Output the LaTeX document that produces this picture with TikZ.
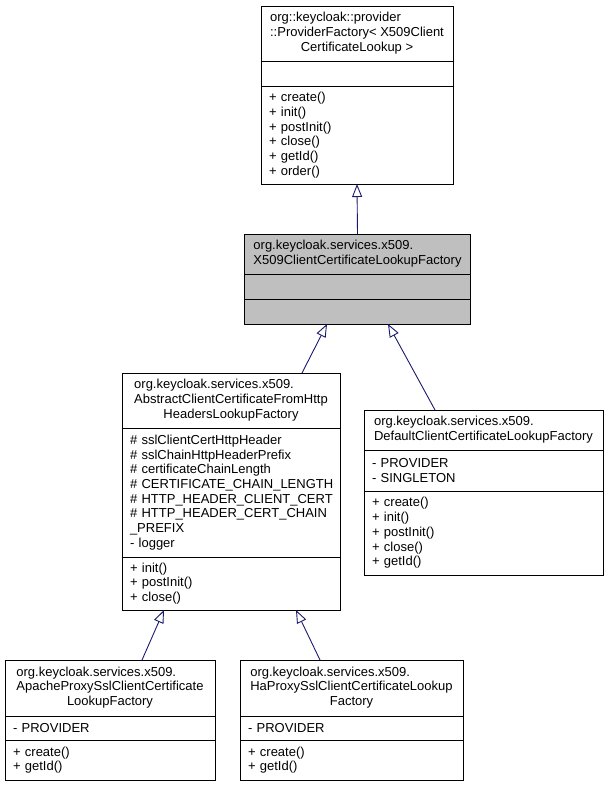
\documentclass[tikz,border=0pt]{standalone}
\usepackage{fontspec}
\setmainfont{Liberation Sans}
\usetikzlibrary{arrows.meta,positioning}
\definecolor{edgeblue}{HTML}{191970}
\definecolor{focusgray}{HTML}{BFBFBF}
\tikzset{
  classtitle/.style={draw,inner sep=0pt,outer sep=0pt,minimum width=#1,align=center},
  classpart/.style={draw,inner xsep=8pt,inner ysep=0pt,outer sep=0pt,text width=#1,align=left,
    execute at begin node={\hyphenpenalty=10000\exhyphenpenalty=10000}},
  inherit/.style={-{Triangle[open,length=13pt,width=10pt]},color=edgeblue,line width=0.9pt}
}

\begin{document}
\begin{tikzpicture}[x=1pt,y=-1pt,line width=0.9pt,font=\fontsize{13}{14.7}\selectfont]
  \useasboundingbox (0,0) rectangle (609,787);

  % base template
  \node[classtitle=192pt,minimum height=55pt,anchor=north west] (pf) at (261,6)
    {\begin{tabular}{@{}l@{}}org::keycloak::provider\\::ProviderFactory< X509Client\\\multicolumn{1}{@{}c@{}}{CertificateLookup >}\end{tabular}};
  \node[classpart=176pt,minimum height=25pt,below=0pt of pf] (pfattr) {};
  \node[classpart=176pt,minimum height=98pt,below=0pt of pfattr] (pfops)
    {+ create()\\+ init()\\+ postInit()\\+ close()\\+ getId()\\+ order()};

  % focused class
  \node[classtitle=226pt,minimum height=40pt,fill=focusgray,anchor=north west] (x509f) at (244.5,234)
    {\begin{tabular}{@{}l@{}}org.keycloak.services.x509.\\\multicolumn{1}{@{}c@{}}{X509ClientCertificateLookupFactory}\end{tabular}};
  \node[classpart=210pt,minimum height=25pt,fill=focusgray,below=0pt of x509f] (x509fattr) {};
  \node[classpart=210pt,minimum height=25pt,fill=focusgray,below=0pt of x509fattr] (x509fops) {};

  % abstract headers factory
  \node[classtitle=218pt,minimum height=55pt,anchor=north west] (abs) at (122,373)
    {\begin{tabular}{@{}l@{}}org.keycloak.services.x509.\\AbstractClientCertificateFromHttp\\\multicolumn{1}{@{}c@{}}{HeadersLookupFactory}\end{tabular}};
  \node[classpart=202pt,minimum height=129pt,below=0pt of abs] (absattr)
    {\#~sslClientCertHttpHeader\\\#~sslChainHttpHeaderPrefix\\\#~certificateChainLength\\\#~CERTIFICATE\_CHAIN\_LENGTH\\\#~HTTP\_HEADER\_CLIENT\_CERT\\\#~HTTP\_HEADER\_CERT\_CHAIN\\\_PREFIX\\- logger};
  \node[classpart=202pt,minimum height=53pt,below=0pt of absattr] (absops)
    {+ init()\\+ postInit()\\+ close()};

  % default factory
  \node[classtitle=239pt,minimum height=40pt,anchor=north west] (def) at (364,410)
    {\begin{tabular}{@{}l@{}}org.keycloak.services.x509.\\\multicolumn{1}{@{}c@{}}{DefaultClientCertificateLookupFactory}\end{tabular}};
  \node[classpart=223pt,minimum height=41pt,below=0pt of def] (defattr)
    {- PROVIDER\\- SINGLETON};
  \node[classpart=223pt,minimum height=84pt,below=0pt of defattr] (defops)
    {+ create()\\+ init()\\+ postInit()\\+ close()\\+ getId()};

  % proxy factories
  \node[classtitle=210pt,minimum height=56pt,anchor=north west] (apache) at (5,660)
    {\begin{tabular}{@{}l@{}}org.keycloak.services.x509.\\ApacheProxySslClientCertificate\\\multicolumn{1}{@{}c@{}}{LookupFactory}\end{tabular}};
  \node[classpart=194pt,minimum height=24pt,below=0pt of apache] (apacheattr) {- PROVIDER};
  \node[classpart=194pt,minimum height=40pt,below=0pt of apacheattr] (apacheops)
    {+ create()\\+ getId()};

  \node[classtitle=223pt,minimum height=56pt,anchor=north west] (haproxy) at (240,660)
    {\begin{tabular}{@{}l@{}}org.keycloak.services.x509.\\HaProxySslClientCertificateLookup\\\multicolumn{1}{@{}c@{}}{Factory}\end{tabular}};
  \node[classpart=207pt,minimum height=24pt,below=0pt of haproxy] (haproxyattr) {- PROVIDER};
  \node[classpart=207pt,minimum height=40pt,below=0pt of haproxyattr] (haproxyops)
    {+ create()\\+ getId()};

  % inheritance
  \draw[inherit] (x509f.north) -- (pfops.south);
  \draw[inherit] ([xshift=71pt]abs.north) -- ([xshift=-30.5pt]x509fops.south);
  \draw[inherit] ([xshift=-48.5pt]def.north) -- ([xshift=30.5pt]x509fops.south);
  \draw[inherit] ([xshift=32pt]apache.north) -- ([xshift=-67pt]absops.south);
  \draw[inherit] ([xshift=-31.5pt]haproxy.north) -- ([xshift=65pt]absops.south);
\end{tikzpicture}
\end{document}
